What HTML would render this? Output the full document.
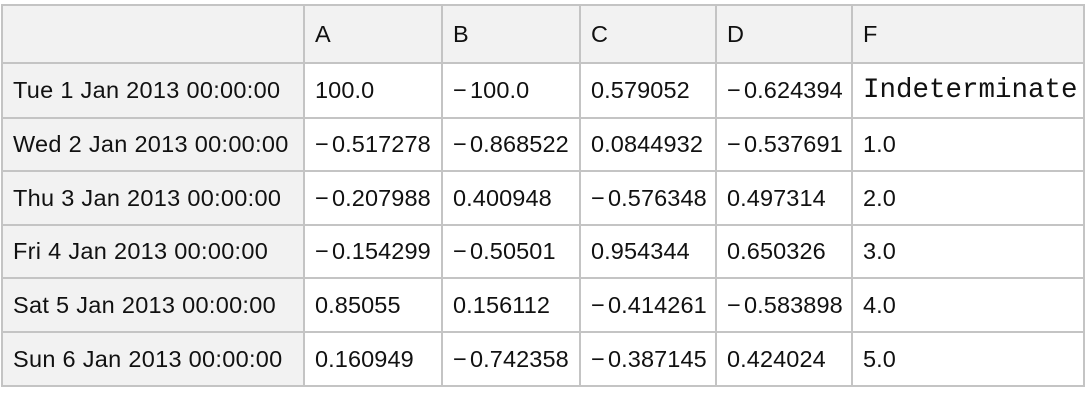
<!DOCTYPE html>
<html><head><meta charset="utf-8"><style>
body{margin:0;width:1090px;height:420px;background:#fff;position:relative;font-family:"Liberation Sans",sans-serif;font-size:23.5px;color:#111;overflow:hidden}
.c{position:absolute;box-sizing:border-box;border:2px solid #c4c4c4;padding-left:10px;display:flex;align-items:center;white-space:nowrap;letter-spacing:0.1px}
.g{background:#f2f2f2}
.f{letter-spacing:0.3px}
.m{font-family:"Liberation Mono",monospace;font-size:27.5px;letter-spacing:0}
.n{display:inline-block;width:17px}
</style></head><body>
<div id="t"></div>
<script>
var xs=[1,303,441,579,715,851,1083],ys=[4,62,117,170,224,277,331,385];
var rows=[["","A","B","C","D","F"],
["Tue 1 Jan 2013 00:00:00","100.0","-100.0","0.579052","-0.624394","Indeterminate"],
["Wed 2 Jan 2013 00:00:00","-0.517278","-0.868522","0.0844932","-0.537691","1.0"],
["Thu 3 Jan 2013 00:00:00","-0.207988","0.400948","-0.576348","0.497314","2.0"],
["Fri 4 Jan 2013 00:00:00","-0.154299","-0.50501","0.954344","0.650326","3.0"],
["Sat 5 Jan 2013 00:00:00","0.85055","0.156112","-0.414261","-0.583898","4.0"],
["Sun 6 Jan 2013 00:00:00","0.160949","-0.742358","-0.387145","0.424024","5.0"]];
var h="";
for(var r=0;r<7;r++)for(var c=0;c<6;c++){
var cls="c"+((r==0||c==0)?" g":"")+((r==1&&c==5)?" m":"")+((c==0&&r>0)?" f":"");
var s=rows[r][c];
if(s.charAt(0)=="-")s='<span class="n">\u2212</span>'+s.slice(1);
h+='<div class="'+cls+'" style="left:'+xs[c]+'px;top:'+ys[r]+'px;width:'+(xs[c+1]-xs[c]+2)+'px;height:'+(ys[r+1]-ys[r]+2)+'px">'+s+'</div>';}
document.getElementById("t").innerHTML=h;
</script>
</body></html>
